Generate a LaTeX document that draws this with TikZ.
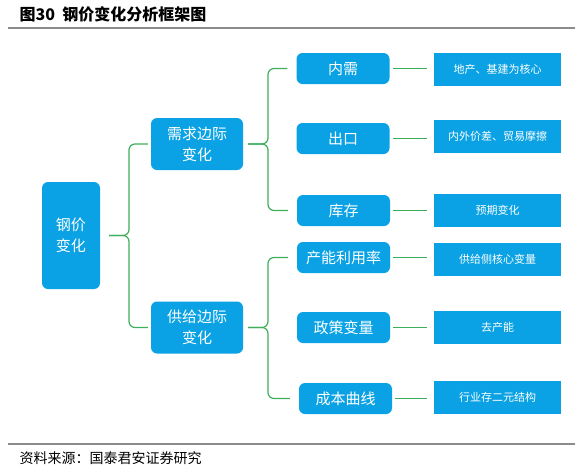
\documentclass[tikz,border=0pt]{standalone}
\usepackage{fontspec}
\setmainfont{Noto Sans CJK SC}
\definecolor{BoxBlue}{HTML}{0AA2E4}
\definecolor{LinkGreen}{HTML}{3DAE5A}
\definecolor{RuleGray}{HTML}{8C8C8C}
\usepackage{tikz}
\usetikzlibrary{positioning, calc}

\begin{document}
\begin{tikzpicture}[x=1pt, y=-1pt,
  rbox/.style={rectangle, rounded corners=6pt, fill=BoxBlue, text=white,
               font=\fontsize{15}{21}\selectfont, align=center, inner sep=0pt},
  lbox/.style={rbox, minimum width=93pt, minimum height=31pt},
  sbox/.style={rectangle, fill=BoxBlue, text=white, font=\fontsize{11}{13}\selectfont,
               minimum width=127pt, minimum height=33pt, inner sep=0pt},
  link/.style={draw=LinkGreen, line width=1.2pt},
  brace/.style={link, rounded corners=6pt},
  rule/.style={draw=RuleGray, line width=1.6pt},
]
\useasboundingbox (0,0) rectangle (579,472);

% title and rules
\node[anchor=west, font=\bfseries\fontsize{16}{19}\selectfont] (title) at (16,14) {图30\ \ 钢价变化分析框架图};
\draw[rule] (8,28) -- (575,28);
\draw[rule] (8,444) -- (575,444);
\node[anchor=west, font=\fontsize{14}{16}\selectfont] (src) at (16,458) {资料来源：国泰君安证券研究};

% level 0 and 1
\node[rbox, minimum width=58pt, minimum height=107pt] (root) at (71,235.5) {钢价\\变化};
\node[rbox, minimum width=92pt, minimum height=52pt] (dem) at (197,144) {需求边际\\变化};
\node[rbox, minimum width=92pt, minimum height=52pt] (sup) at (197,327.5) {供给边际\\变化};

% level 2
\node[lbox] (nx) at (343,68.5) {内需};
\node[lbox] (ck) at (343,138.5) {出口};
\node[lbox] (kc) at (343.5,210.5) {库存};
\node[lbox] (cn) at (343.5,257.5) {产能利用率};
\node[lbox] (zc) at (343.5,327.5) {政策变量};
\node[lbox] (cb) at (345.5,398.5) {成本曲线};

% level 3
\node[sbox] (dnx) at (497.5,69.5) {地产、基建为核心};
\node[sbox] (dck) at (497.5,136) {内外价差、贸易摩擦};
\node[sbox] (dkc) at (497.5,210) {预期变化};
\node[sbox] (dcn) at (497.5,259.5) {供给侧核心变量};
\node[sbox] (dzc) at (497.5,327) {去产能};
\node[sbox] (dcb) at (497.5,397.5) {行业存二元结构};

% braces (only the outer branches are drawn)
\coordinate (rj) at (129,235.5);
\coordinate (dj) at (268,144);
\coordinate (sj) at (268,327.5);
\foreach \c in {dem,sup}
  \draw[brace, shorten <=9pt, shorten >=3pt] (root.east) -- (rj) |- (\c.west);
\foreach \c in {nx,kc}
  \draw[brace, shorten <=5pt, shorten >=9pt] (dem.east) -- (dj) |- (\c.west);
\foreach \c in {cn,cb}
  \draw[brace, shorten <=5pt, shorten >=9pt] (sup.east) -- (sj) |- (\c.west);

% level 2 to level 3
\foreach \c in {nx,ck,kc,cn,zc,cb}
  \draw[link, shorten <=3pt, shorten >=7pt] (\c.east) -- (\c.east -| d\c.west);
\end{tikzpicture}
\end{document}
